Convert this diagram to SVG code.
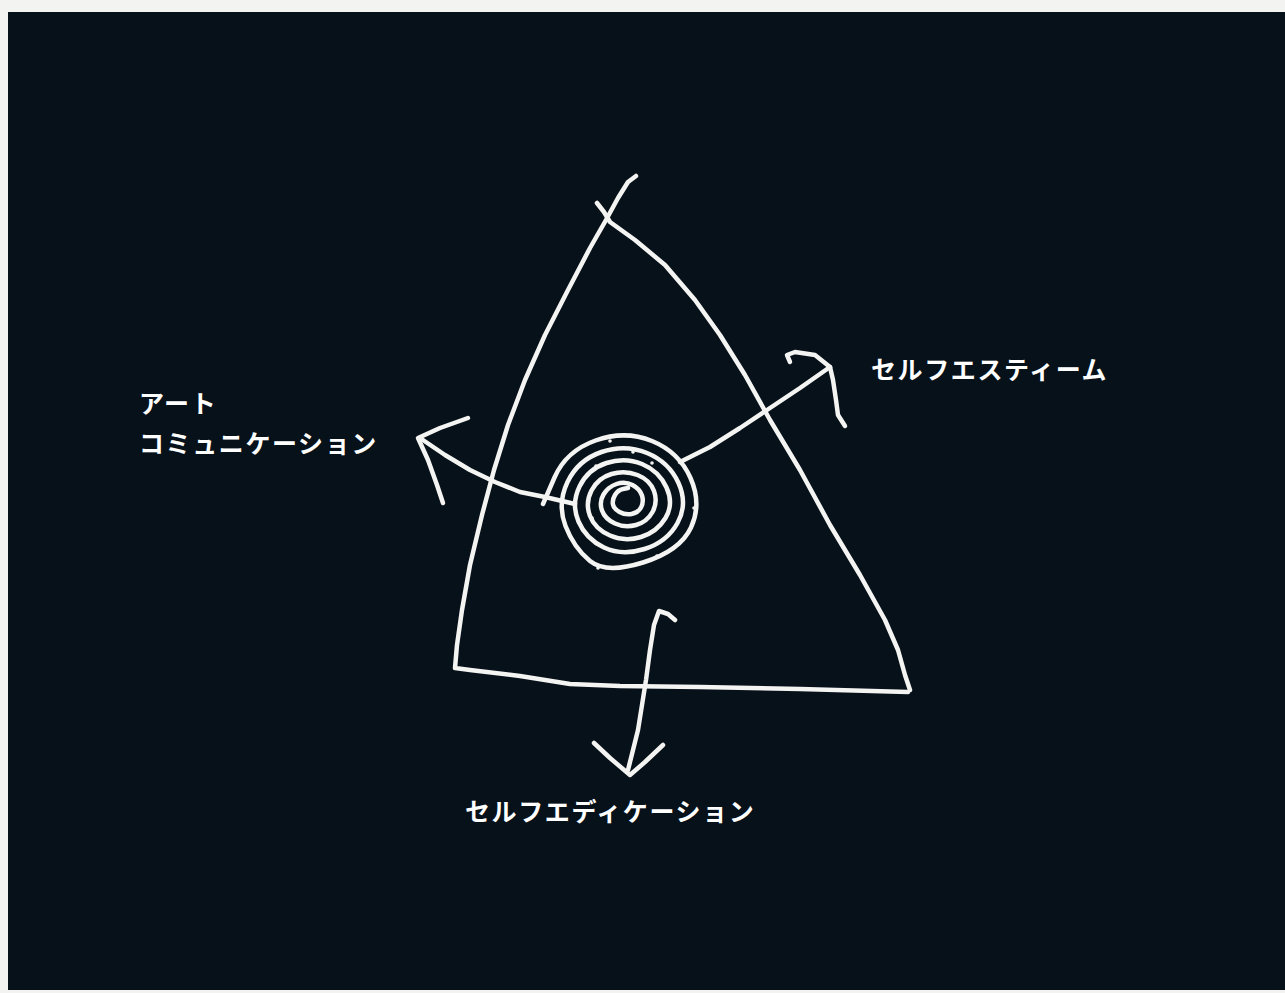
<svg xmlns="http://www.w3.org/2000/svg" width="1285" height="993" viewBox="0 0 1285 993">
  <defs>
    <style>
      .ln { fill: none; stroke: #f4f4f2; stroke-width: 4.5; stroke-linecap: round; stroke-linejoin: round; }
      .lbl { fill: #ffffff; font-family: "Noto Sans CJK JP", "Noto Sans", sans-serif; font-size: 25px; font-weight: 700; letter-spacing: 1.6px; }
      .dot { fill: #f4f4f2; }
    </style>
  </defs>
  <rect x="0" y="0" width="1285" height="993" fill="#f3f3f1"/>
  <rect x="8" y="12" width="1277" height="978" fill="#07111a"/>

  <g id="connectors">
    <!-- triangle -->
    <path class="ln" d="M 636 176 L 628 182 L 618 198 L 606 220 L 590 248 L 568 290 L 545 335 L 525 380 L 508 425 L 494 470 L 482 515 L 470 565 L 462 610 L 457 645 L 455 668 L 470 670 L 520 676 L 570 684 L 620 686 L 700 687 L 800 689 L 908 692"/>
    <path class="ln" d="M 597 203 L 604 212 L 610 222 L 635 240 L 665 265 L 695 300 L 720 335 L 745 375 L 770 420 L 800 470 L 830 525 L 860 575 L 885 620 L 898 650 L 905 675 L 910 690"/>
    <!-- left arrow -->
    <path class="ln" d="M 575 504 L 545 497 L 520 492 L 495 482 L 470 470 L 445 455 L 420 438"/>
    <path class="ln" d="M 468 418 L 440 428 L 418 438 L 428 460 L 437 485 L 443 503"/>
    <!-- right arrow -->
    <path class="ln" d="M 680 462 L 710 447 L 740 428 L 770 408 L 800 388 L 830 367"/>
    <path class="ln" d="M 790 362 L 787 355 L 795 352 L 815 355 L 830 367 L 833 380 L 836 400 L 838 415 L 845 426"/>
    <!-- bottom arrow -->
    <path class="ln" d="M 675 620 L 668 614 L 659 611 L 654 625 L 650 650 L 646 680 L 642 705 L 638 730 L 633 750 L 628 770"/>
    <path class="ln" d="M 594 743 L 610 758 L 630 775 L 645 762 L 663 745"/>
  </g>

  <g id="spiral">
    <path class="ln" d="M 543 504 L 554.5 477.5 Q 566 451 595.5 440.5 Q 625 430 652 441 Q 679 452 690.5 478 Q 702 504 691 527.5 Q 680 551 643 562.5 Q 606 574 590 561 Q 574 548 565.5 526 Q 557 504 567.5 482 Q 578 460 601.5 452 Q 625 444 647 453 Q 669 462 678.5 483 Q 688 504 677.5 523 Q 667 542 644.5 549 Q 622 556 604 547.5 Q 586 539 578.5 521.5 Q 571 504 579.5 486.5 Q 588 469 606.5 463 Q 625 457 642 464 Q 659 471 666.5 487.5 Q 674 504 665.5 518 Q 657 532 641 537 Q 625 542 610 535.5 Q 595 529 590 516 Q 585 503 591.5 490.5 Q 598 478 611.5 474 Q 625 470 637.5 475 Q 650 480 654 491 Q 658 502 652.5 512 Q 647 522 636 525 Q 625 528 615 523.5 Q 605 519 602 510.5 Q 599 502 603.5 494.5 Q 608 487 616.5 484 Q 625 481 632.5 485 Q 640 489 642 495.5 Q 644 502 641 507.5 Q 638 513 631.5 514 Q 625 515 619.5 512 Q 614 509 613 504.5 Q 612 500 615 495 Q 618 490 623 489 L 628 488"/>
    <circle class="dot" cx="610" cy="441" r="1.8"/>
    <circle class="dot" cx="633" cy="452" r="1.8"/>
    <circle class="dot" cx="652" cy="463" r="1.8"/>
    <circle class="dot" cx="694" cy="508" r="1.8"/>
    <circle class="dot" cx="596" cy="466" r="1.8"/>
    <circle class="dot" cx="592" cy="518" r="1.8"/>
    <circle class="dot" cx="583" cy="530" r="1.8"/>
    <circle class="dot" cx="657" cy="556" r="1.8"/>
    <circle class="dot" cx="598" cy="568" r="1.8"/>
  </g>

  <g id="node-art">
    <text class="lbl" x="139" y="413">アート</text>
    <text class="lbl" x="139" y="453">コミュニケーション</text>
  </g>
  <g id="node-esteem">
    <text class="lbl" x="871" y="379">セルフエスティーム</text>
  </g>
  <g id="node-edification">
    <text class="lbl" x="465" y="821">セルフエディケーション</text>
  </g>
</svg>
